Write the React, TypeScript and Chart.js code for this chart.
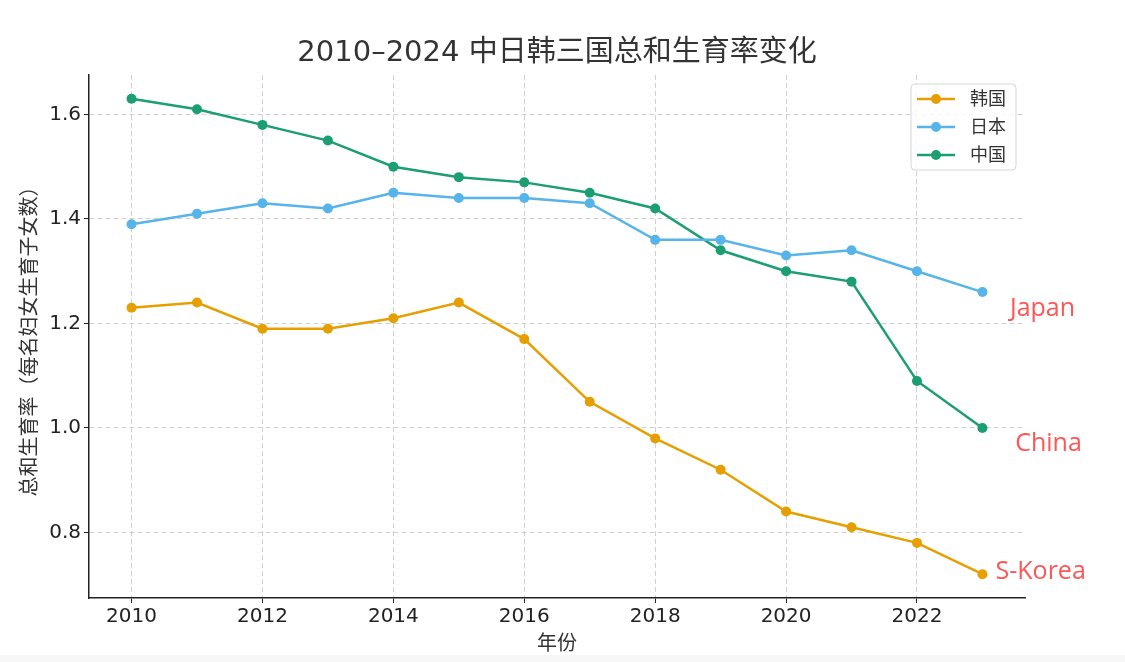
import React, { useEffect, useRef } from "react";
import { Chart, registerables } from "chart.js";

Chart.register(...registerables);

// ---- data ----
const years = [2010, 2011, 2012, 2013, 2014, 2015, 2016, 2017, 2018, 2019, 2020, 2021, 2022, 2023];
const korea = [1.23, 1.24, 1.19, 1.19, 1.21, 1.24, 1.17, 1.05, 0.98, 0.92, 0.84, 0.81, 0.78, 0.72];
const japan = [1.39, 1.41, 1.43, 1.42, 1.45, 1.44, 1.44, 1.43, 1.36, 1.36, 1.33, 1.34, 1.3, 1.26];
const china = [1.63, 1.61, 1.58, 1.55, 1.5, 1.48, 1.47, 1.45, 1.42, 1.34, 1.3, 1.28, 1.09, 1.0];
const seriesNames = ["韩国", "日本", "中国"];
const seriesColors = ["#E69F00", "#56B4E9", "#1B9E72"];
const xTicks = [2010, 2012, 2014, 2016, 2018, 2020, 2022];
const yTicks = [0.8, 1.0, 1.2, 1.4, 1.6];
const titleText = "2010–2024 中日韩三国总和生育率变化";
const xLabel = "年份";
const yLabel = "总和生育率（每名妇女生育子女数）";
const noteLabels = ["Japan", "China", "S-Korea"];
const noteX = [2023.42, 2023.5, 2023.2];
const noteY = [1.228, 0.97, 0.724];

const FONT = "'DejaVu Sans', 'Noto Sans CJK SC', sans-serif";
const NOTE_FONT = "'Open Sans', 'Noto Sans', sans-serif";

const allY = [...korea, ...japan, ...china];
const yMinD = Math.min(...allY);
const yMaxD = Math.max(...allY);
const yPad = (yMaxD - yMinD) * 0.05;
const xPad = (years[years.length - 1] - years[0]) * 0.05;

const decorPlugin = {
  id: "decor",
  afterDraw(chart: any) {
    const { ctx, chartArea } = chart;
    const xs = chart.scales.x;
    const ys = chart.scales.y;
    const cx = (chartArea.left + chartArea.right) / 2;
    const cy = (chartArea.top + chartArea.bottom) / 2;
    ctx.save();
    // title
    ctx.fillStyle = "#333333";
    ctx.font = `29px ${FONT}`;
    ctx.textAlign = "center";
    ctx.textBaseline = "middle";
    ctx.fillText(titleText, cx, 53);
    // x label
    ctx.font = `20px ${FONT}`;
    ctx.fillText(xLabel, cx, 645);
    // y label
    ctx.save();
    ctx.translate(31, cy);
    ctx.rotate(-Math.PI / 2);
    ctx.fillText(yLabel, 0, 0);
    ctx.restore();

    // annotations
    ctx.font = `25px ${NOTE_FONT}`;
    ctx.fillStyle = "#FF5555";
    ctx.textAlign = "left";
    ctx.textBaseline = "middle";
    noteLabels.forEach((t, i) => {
      ctx.fillText(t, xs.getPixelForValue(noteX[i]), ys.getPixelForValue(noteY[i]));
    });

    // legend
    ctx.font = `18px ${FONT}`;
    const tw = Math.max(...seriesNames.map((s) => ctx.measureText(s).width));
    const lineLen = 38;
    const boxW = 6 + lineLen + 15 + tw + 10;
    const rowH = 28;
    const boxH = rowH * seriesNames.length + 2;
    const right = chartArea.right - 9;
    const top = chartArea.top + 9;
    const left = right - boxW;
    ctx.beginPath();
    const r = 4;
    ctx.moveTo(left + r, top);
    ctx.lineTo(right - r, top);
    ctx.quadraticCurveTo(right, top, right, top + r);
    ctx.lineTo(right, top + boxH - r);
    ctx.quadraticCurveTo(right, top + boxH, right - r, top + boxH);
    ctx.lineTo(left + r, top + boxH);
    ctx.quadraticCurveTo(left, top + boxH, left, top + boxH - r);
    ctx.lineTo(left, top + r);
    ctx.quadraticCurveTo(left, top, left + r, top);
    ctx.closePath();
    ctx.fillStyle = "rgba(255,255,255,0.85)";
    ctx.fill();
    ctx.strokeStyle = "#d6d6d6";
    ctx.lineWidth = 1;
    ctx.stroke();
    seriesNames.forEach((name, i) => {
      const yy = top + 15 + i * rowH;
      const x0 = left + 6;
      ctx.strokeStyle = seriesColors[i];
      ctx.lineWidth = 2.5;
      ctx.beginPath();
      ctx.moveTo(x0, yy);
      ctx.lineTo(x0 + lineLen, yy);
      ctx.stroke();
      ctx.fillStyle = seriesColors[i];
      ctx.beginPath();
      ctx.arc(x0 + lineLen / 2, yy, 5, 0, Math.PI * 2);
      ctx.fill();
      ctx.fillStyle = "#333333";
      ctx.textAlign = "left";
      ctx.textBaseline = "middle";
      ctx.fillText(name, x0 + lineLen + 15, yy + 1);
    });
    ctx.restore();
  },
};

export default function App() {
  const ref = useRef<HTMLCanvasElement | null>(null);
  useEffect(() => {
    if (!ref.current) return;
    const series = [korea, japan, china];
    const chart = new Chart(ref.current, {
      type: "line",
      data: {
        datasets: series.map((vals, i) => ({
          label: seriesNames[i],
          data: years.map((y, j) => ({ x: y, y: vals[j] })),
          borderColor: seriesColors[i],
          backgroundColor: seriesColors[i],
          pointBackgroundColor: seriesColors[i],
          pointBorderColor: seriesColors[i],
          borderWidth: 2.5,
          pointRadius: 5,
          pointBorderWidth: 0,
          tension: 0,
        })),
      },
      options: {
        responsive: false,
        animation: false,
        devicePixelRatio: 1,
        layout: { padding: { left: 0, right: 100, top: 75, bottom: 0 } },
        plugins: { legend: { display: false }, title: { display: false }, tooltip: { enabled: false } },
        scales: {
          x: {
            type: "linear",
            min: years[0] - xPad,
            max: years[years.length - 1] + xPad,
            afterBuildTicks: (s: any) => {
              s.ticks = xTicks.map((v) => ({ value: v }));
            },
            afterFit: (s: any) => {
              s.height = 57;
            },
            ticks: {
              callback: (v: any) => String(v),
              color: "#222222",
              font: { family: FONT, size: 20 },
              padding: 2,
              maxRotation: 0,
              autoSkip: false,
            },
            grid: {
              color: "rgba(190,190,190,0.7)",
              lineWidth: 1,
              tickColor: "#222222",
              tickLength: 5,
              tickWidth: 1,
              tickBorderDash: [],
            },
            border: { display: true, color: "#222222", width: 1.5, dash: [5, 3] },
          },
          y: {
            type: "linear",
            min: yMinD - yPad,
            max: yMaxD + yPad,
            afterBuildTicks: (s: any) => {
              s.ticks = yTicks.map((v) => ({ value: v }));
            },
            afterFit: (s: any) => {
              s.width = 89;
            },
            ticks: {
              callback: (v: any) => Number(v).toFixed(1),
              color: "#222222",
              font: { family: FONT, size: 20 },
              padding: 3,
              autoSkip: false,
            },
            grid: {
              color: "rgba(190,190,190,0.7)",
              lineWidth: 1,
              tickColor: "#222222",
              tickLength: 5,
              tickWidth: 1,
              tickBorderDash: [],
            },
            border: { display: true, color: "#222222", width: 1.5, dash: [5, 3] },
          },
        },
      },
      plugins: [decorPlugin],
    } as any);
    return () => chart.destroy();
  }, []);
  return (
    <div style={{ position: "absolute", left: 0, top: 0, width: 1125, height: 662, background: "#f7f7f7" }}>
      <canvas ref={ref} width={1125} height={655} style={{ display: "block", background: "#ffffff" }} />
    </div>
  );
}
